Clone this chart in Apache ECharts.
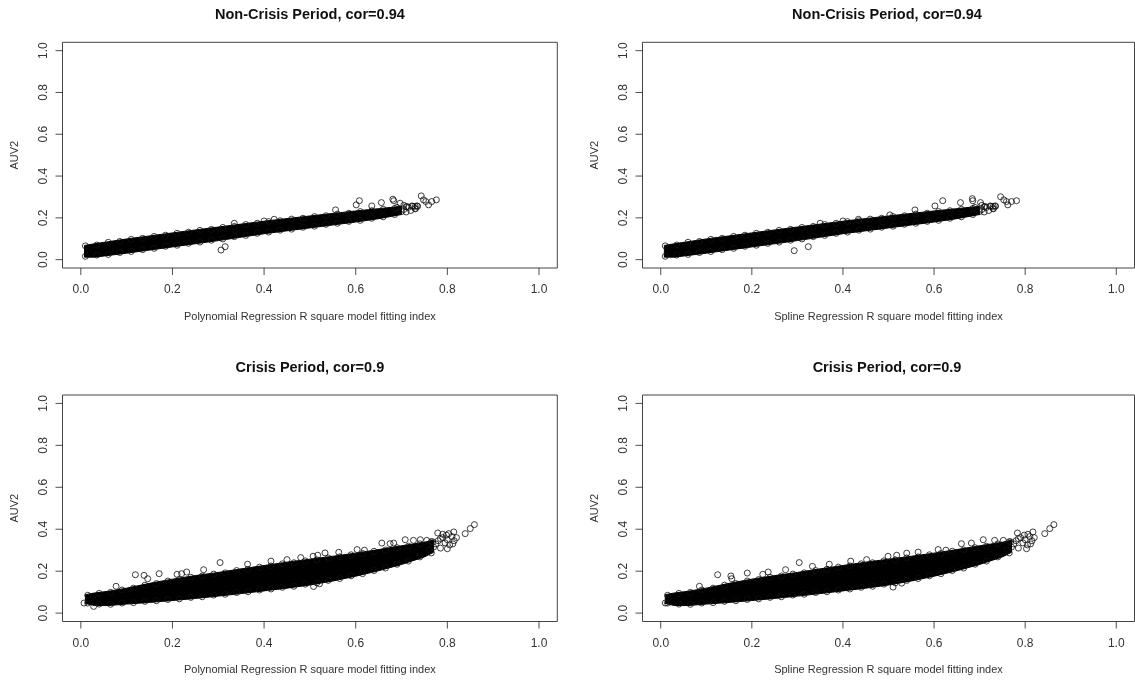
<!DOCTYPE html>
<html>
<head>
<meta charset="utf-8">
<script src="https://cdn.jsdelivr.net/npm/echarts@6/dist/echarts.min.js"></script>
<style>html,body{margin:0;padding:0;background:#fff;}#c{width:1135px;height:681px;}</style>
</head>
<body>
<div id="c"></div>
<script>
// ---------- data ----------
var tickValues = [0, 0.2, 0.4, 0.6, 0.8, 1.0];
var titles = ["Non-Crisis Period, cor=0.94", "Non-Crisis Period, cor=0.94", "Crisis Period, cor=0.9", "Crisis Period, cor=0.9"];
var xTitles = ["Polynomial Regression R square model fitting index", "Spline Regression R square model fitting index",
               "Polynomial Regression R square model fitting index", "Spline Regression R square model fitting index"];
var yTitle = "AUV2";

// Non-crisis: solid overplotted core of the cloud (outline of the dense region)
var nonCrisisCore = [[0.008,0.068],[0.03,0.076],[0.1,0.099],[0.2,0.128],[0.3,0.156],[0.4,0.184],[0.5,0.209],[0.6,0.233],[0.65,0.244],[0.7,0.255],
  [0.7,0.216],[0.65,0.196],[0.6,0.18],[0.5,0.152],[0.4,0.124],[0.3,0.091],[0.2,0.061],[0.1,0.031],[0.03,0.012],[0.008,0.012]];
// Non-crisis: circles on the upper and lower rim of the cloud
var nonCrisisUpperRim = [[0.01,0.066],[0.035,0.07],[0.06,0.083],[0.085,0.087],[0.11,0.097],[0.135,0.102],[0.16,0.111],[0.185,0.117],[0.21,0.126],[0.235,0.131],
  [0.26,0.14],[0.285,0.145],[0.31,0.154],[0.335,0.159],[0.36,0.168],[0.385,0.174],[0.41,0.182],[0.435,0.186],[0.46,0.194],[0.485,0.198],
  [0.51,0.206],[0.535,0.21],[0.56,0.218],[0.585,0.222],[0.61,0.23],[0.635,0.234],[0.66,0.241],[0.685,0.245],[0.71,0.253],[0.73,0.255]];
var nonCrisisLowerRim = [[0.01,0.016],[0.035,0.022],[0.06,0.025],[0.085,0.034],[0.11,0.039],[0.135,0.048],[0.16,0.054],[0.185,0.064],[0.21,0.069],[0.235,0.078],
  [0.26,0.084],[0.285,0.093],[0.31,0.099],[0.335,0.11],[0.36,0.116],[0.385,0.126],[0.41,0.132],[0.435,0.141],[0.46,0.146],[0.485,0.155],
  [0.51,0.16],[0.535,0.169],[0.56,0.174],[0.585,0.183],[0.61,0.188],[0.635,0.198],[0.66,0.205],[0.685,0.216],[0.71,0.228],[0.73,0.243]];
var nonCrisisTip = [[0.705,0.24],[0.715,0.25],[0.72,0.235],[0.725,0.255],[0.73,0.245],[0.735,0.255],[0.712,0.254],[0.723,0.257],[0.734,0.257],[0.7,0.23],[0.69,0.25],[0.705,0.26]];
var nonCrisisPolyOutliers = [[0.743,0.305],[0.748,0.286],[0.753,0.278],[0.759,0.262],[0.766,0.278],[0.776,0.286],[0.608,0.282],[0.601,0.262],[0.656,0.273],
  [0.681,0.289],[0.683,0.282],[0.697,0.27],[0.556,0.238],[0.306,0.046],[0.315,0.062],[0.335,0.174],[0.4,0.185],[0.422,0.193],[0.635,0.257]];
var nonCrisisSplineOutliers = [[0.293,0.043],[0.324,0.062],[0.35,0.174],[0.4,0.185],[0.434,0.193],[0.503,0.214],[0.558,0.238],[0.602,0.257],[0.619,0.282],
  [0.658,0.273],[0.684,0.292],[0.685,0.282],[0.702,0.273],[0.746,0.301],[0.753,0.286],[0.759,0.278],[0.762,0.262],[0.77,0.278],[0.781,0.282]];

// Crisis
var crisisCore = [[0.01,0.088],[0.03,0.096],[0.06,0.104],[0.1,0.119],[0.15,0.142],[0.2,0.162],[0.25,0.179],[0.3,0.194],[0.35,0.211],[0.4,0.227],[0.45,0.243],
  [0.5,0.257],[0.55,0.271],[0.6,0.286],[0.65,0.303],[0.7,0.321],[0.75,0.338],[0.77,0.348],
  [0.77,0.29],[0.75,0.268],[0.7,0.232],[0.65,0.202],[0.6,0.176],[0.55,0.153],[0.5,0.134],[0.45,0.119],[0.4,0.106],[0.35,0.093],[0.3,0.081],
  [0.25,0.07],[0.2,0.06],[0.15,0.051],[0.1,0.043],[0.06,0.036],[0.03,0.036],[0.01,0.046]];
var crisisUpperRim = [[0.015,0.085],[0.04,0.094],[0.065,0.099],[0.09,0.11],[0.115,0.119],[0.14,0.133],[0.165,0.141],[0.19,0.153],[0.215,0.16],[0.24,0.171],
  [0.265,0.177],[0.29,0.186],[0.315,0.192],[0.34,0.203],[0.365,0.209],[0.39,0.219],[0.415,0.225],[0.44,0.235],[0.465,0.24],[0.49,0.249],
  [0.515,0.254],[0.54,0.263],[0.565,0.268],[0.59,0.278],[0.615,0.284],[0.64,0.295],[0.665,0.301],[0.69,0.312],[0.715,0.319],[0.74,0.33],[0.765,0.341]];
var crisisLowerRim = [[0.015,0.048],[0.04,0.043],[0.065,0.042],[0.09,0.048],[0.115,0.05],[0.14,0.056],[0.165,0.059],[0.19,0.065],[0.215,0.068],[0.24,0.075],
  [0.265,0.078],[0.29,0.086],[0.315,0.09],[0.34,0.098],[0.365,0.102],[0.39,0.11],[0.415,0.115],[0.44,0.123],[0.465,0.128],[0.49,0.138],
  [0.515,0.144],[0.54,0.156],[0.565,0.165],[0.59,0.178],[0.615,0.188],[0.64,0.203],[0.665,0.215],[0.69,0.233],[0.715,0.248],[0.74,0.268],[0.765,0.287]];
var crisisTip = [[0.775,0.33],[0.78,0.345],[0.785,0.31],[0.79,0.36],[0.795,0.335],[0.8,0.35],[0.805,0.325],[0.81,0.365],[0.815,0.345],[0.82,0.36],
  [0.812,0.33],[0.798,0.372],[0.785,0.355],[0.77,0.315],[0.76,0.3],[0.768,0.34]];
var crisisPolyOutliers = [[0.007,0.048],[0.028,0.032],[0.077,0.128],[0.119,0.183],[0.138,0.18],[0.146,0.164],[0.171,0.188],[0.21,0.185],[0.22,0.188],
  [0.231,0.196],[0.268,0.207],[0.304,0.241],[0.364,0.233],[0.415,0.248],[0.45,0.255],[0.48,0.265],[0.507,0.271],[0.517,0.276],[0.533,0.287],
  [0.563,0.29],[0.603,0.303],[0.619,0.3],[0.657,0.334],[0.675,0.331],[0.683,0.334],[0.708,0.35],[0.726,0.347],[0.741,0.35],[0.755,0.347],
  [0.779,0.382],[0.79,0.376],[0.803,0.379],[0.814,0.387],[0.8,0.307],[0.839,0.379],[0.85,0.403],[0.859,0.422],[0.508,0.127],[0.521,0.14]];
var crisisSplineOutliers = [[0.01,0.048],[0.085,0.128],[0.125,0.183],[0.154,0.177],[0.156,0.164],[0.19,0.191],[0.224,0.185],[0.236,0.196],[0.274,0.207],
  [0.304,0.241],[0.333,0.223],[0.37,0.233],[0.417,0.248],[0.452,0.255],[0.499,0.271],[0.518,0.276],[0.54,0.286],[0.565,0.291],[0.609,0.303],
  [0.626,0.3],[0.66,0.331],[0.682,0.334],[0.708,0.35],[0.733,0.347],[0.752,0.347],[0.783,0.382],[0.806,0.376],[0.817,0.387],[0.803,0.307],
  [0.843,0.379],[0.854,0.403],[0.863,0.422],[0.51,0.124],[0.529,0.143]];

// ---------- layout ----------
var FONT = "'Liberation Sans', Arial, Helvetica, sans-serif";
var AXMIN = -0.04, AXMAX = 1.04;
var grids = [
  {left: 62.5, top: 42.3, width: 494.8, height: 225.7},
  {left: 642.5, top: 42.3, width: 492, height: 225.7},
  {left: 62.5, top: 395, width: 494.8, height: 226.5},
  {left: 642.5, top: 395, width: 492, height: 226.5}
];
var panels = [
  {core: nonCrisisCore, rims: [nonCrisisUpperRim, nonCrisisLowerRim, nonCrisisTip], outliers: nonCrisisPolyOutliers},
  {core: nonCrisisCore, rims: [nonCrisisUpperRim, nonCrisisLowerRim, nonCrisisTip], outliers: nonCrisisSplineOutliers},
  {core: crisisCore, rims: [crisisUpperRim, crisisLowerRim, crisisTip], outliers: crisisPolyOutliers},
  {core: crisisCore, rims: [crisisUpperRim, crisisLowerRim, crisisTip], outliers: crisisSplineOutliers}
];

var option = {
  animation: false,
  backgroundColor: '#fff',
  title: [], grid: [], xAxis: [], yAxis: [], series: []
};
var circleStyle = {color: 'rgba(0,0,0,0)', borderColor: '#111', borderWidth: 1};
var TICK_COLOR = '#222', TICK_LEN = 7;

grids.forEach(function (g, i) {
  option.grid.push({left: g.left, top: g.top, width: g.width, height: g.height, show: true,
    borderColor: '#444', borderWidth: 1, backgroundColor: 'rgba(0,0,0,0)', containLabel: false});
  option.title.push({text: titles[i], left: g.left + g.width / 2 - (i % 2 ? 1.5 : 0), top: g.top - 35, textAlign: 'center', padding: 0,
    textStyle: {fontFamily: FONT, fontSize: 14.5, fontWeight: 'bold', color: '#111'}});
  option.xAxis.push({type: 'value', gridIndex: i, min: AXMIN, max: AXMAX, position: 'bottom',
    axisLine: {show: false, onZero: false}, splitLine: {show: false}, axisTick: {show: false},
    axisLabel: {customValues: tickValues, margin: 16, fontFamily: FONT, fontSize: 12, color: '#333',
      formatter: function (v) { return v.toFixed(1); }},
    name: xTitles[i], nameLocation: 'middle', nameGap: 43,
    nameTextStyle: {fontFamily: FONT, fontSize: 11, color: '#333'}
  });
  option.yAxis.push({type: 'value', gridIndex: i, min: AXMIN, max: AXMAX, position: 'left',
    axisLine: {show: false, onZero: false}, splitLine: {show: false}, axisTick: {show: false},
    axisLabel: {customValues: tickValues, margin: 13, rotate: 90, fontFamily: FONT, fontSize: 12, color: '#333',
      formatter: function (v) { return v.toFixed(1); }},
    name: yTitle, nameLocation: 'middle', nameGap: 42, nameRotate: 90,
    nameTextStyle: {fontFamily: FONT, fontSize: 11, color: '#333'}
  });
  var p = panels[i];
  option.series.push({
    type: 'custom', xAxisIndex: i, yAxisIndex: i, data: p.core, silent: true, z: 1,
    renderItem: (function (core) {
      return function (params, api) {
        if (params.dataIndex !== 0) return null;
        var pts = core.map(function (d) { return api.coord(d); });
        return {type: 'polygon', shape: {points: pts}, style: {fill: '#000', stroke: '#000', lineWidth: 1}};
      };
    })(p.core)
  });
  p.rims.forEach(function (r) {
    option.series.push({type: 'scatter', xAxisIndex: i, yAxisIndex: i, data: r, symbol: 'circle', symbolSize: 6,
      itemStyle: circleStyle, silent: true, z: 2});
  });
  option.series.push({type: 'scatter', xAxisIndex: i, yAxisIndex: i, data: p.outliers, symbol: 'circle', symbolSize: 6,
    itemStyle: circleStyle, silent: true, z: 3});
  // R-style outward tick marks: thin rect symbols placed at the tick values by the axes' own scales
  option.series.push({type: 'scatter', xAxisIndex: i, yAxisIndex: i, clip: false, silent: true, z: 10,
    data: tickValues.map(function (v) { return [v, AXMIN]; }),
    symbol: 'rect', symbolSize: [1, TICK_LEN], symbolOffset: [0, TICK_LEN / 2],
    itemStyle: {color: TICK_COLOR}});
  option.series.push({type: 'scatter', xAxisIndex: i, yAxisIndex: i, clip: false, silent: true, z: 10,
    data: tickValues.map(function (v) { return [AXMIN, v]; }),
    symbol: 'rect', symbolSize: [TICK_LEN, 1], symbolOffset: [-TICK_LEN / 2, 0],
    itemStyle: {color: TICK_COLOR}});
});

var chart = echarts.init(document.getElementById('c'), null, {renderer: 'canvas'});
chart.setOption(option);
</script>
</body>
</html>
